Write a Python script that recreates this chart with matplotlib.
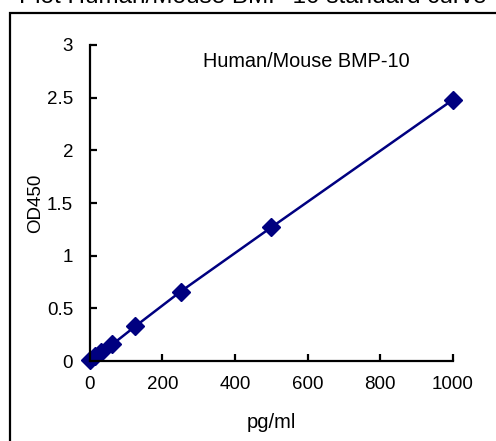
import matplotlib
matplotlib.use("Agg")
import matplotlib.pyplot as plt
from matplotlib.patches import Rectangle

plt.rcParams.update({"font.family": "sans-serif", "font.sans-serif": ["Liberation Sans", "DejaVu Sans"]})

conc = [0, 15.6, 31.25, 62.5, 125, 250, 500, 1000]
od = [0.01, 0.05, 0.09, 0.16, 0.33, 0.66, 1.27, 2.48]
xticks = [0, 200, 400, 600, 800, 1000]
yticks = [0, 0.5, 1, 1.5, 2, 2.5, 3]
ytick_labels = ["0", "0.5", "1", "1.5", "2", "2.5", "3"]

fig = plt.figure(figsize=(4.96, 4.41), dpi=100)
ax = fig.add_axes([0.181, 0.181, 0.732, 0.717])

# outer frame (cropped on the right and bottom)
fig.patches.append(Rectangle((10 / 496, -0.1), 1.2, 1 - 13 / 441 + 0.1,
                             transform=fig.transFigure, fill=False,
                             edgecolor="black", linewidth=1.6, zorder=0))
fig.text(0.51, 1 + 3 / 441, "Plot Human/Mouse BMP-10 standard curve",
         ha="center", va="center", fontsize=17.5)

ax.plot(conc, od, color="#000080", linewidth=1.8, marker="D",
        markersize=9.5, markerfacecolor="#000080", markeredgecolor="#000080",
        clip_on=False)

ax.set_xlim(0, 1000)
ax.set_ylim(0, 3)
ax.set_xticks(xticks)
ax.set_yticks(yticks)
ax.set_yticklabels(ytick_labels)
ax.spines["top"].set_visible(False)
ax.spines["right"].set_visible(False)
for s in ("left", "bottom"):
    ax.spines[s].set_linewidth(1.6)
ax.tick_params(direction="in", length=5, width=1.6, labelsize=13.5)
ax.tick_params(axis="x", pad=11)
ax.tick_params(axis="y", pad=12)
ax.set_xlabel("pg/ml", fontsize=14.5, labelpad=14)
ax.set_ylabel("OD450", fontsize=13.5, labelpad=2)
ax.text(0.313, 0.949, "Human/Mouse BMP-10", transform=ax.transAxes,
        fontsize=14.3, ha="left", va="center")

fig.savefig("out.png", dpi=100, facecolor="white")
